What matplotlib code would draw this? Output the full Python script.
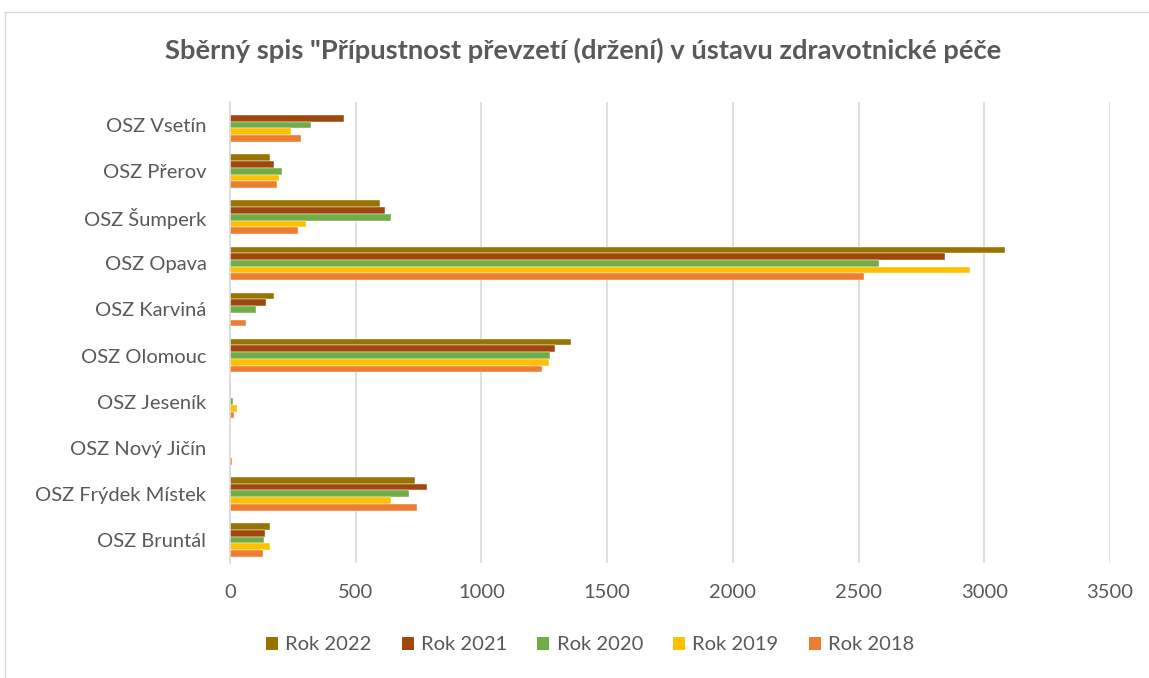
import matplotlib
matplotlib.use("Agg")
import matplotlib.pyplot as plt
import numpy as np
from matplotlib.lines import Line2D
from matplotlib.patches import Patch

plt.rcParams["font.family"] = ["Lato", "DejaVu Sans"]

# Categories from bottom to top (as drawn)
categories = ["OSZ Bruntál", "OSZ Frýdek Místek", "OSZ Nový Jičín", "OSZ Jeseník",
              "OSZ Olomouc", "OSZ Karviná", "OSZ Opava", "OSZ Šumperk",
              "OSZ Přerov", "OSZ Vsetín"]

rok_2022 = [159, 736, 1, 2, 1355, 175, 3081, 596, 158, 0]
rok_2021 = [138, 783, 0, 0, 1292, 144, 2843, 616, 174, 453]
rok_2020 = [135, 713, 0, 10, 1271, 102, 2580, 639, 208, 322]
rok_2019 = [159, 641, 0, 29, 1269, 3, 2942, 302, 196, 241]
rok_2018 = [131, 744, 8, 15, 1242, 64, 2521, 269, 188, 281]

series_labels = ["Rok 2022", "Rok 2021", "Rok 2020", "Rok 2019", "Rok 2018"]
series_values = [rok_2022, rok_2021, rok_2020, rok_2019, rok_2018]
colors = ["#997300", "#9e480e", "#70ad47", "#ffc000", "#ed7d31"]

x_ticks = [0, 500, 1000, 1500, 2000, 2500, 3000, 3500]

fig = plt.figure(figsize=(11.49, 6.78), dpi=100)
ax = fig.add_axes([230 / 1149, 1 - 563 / 678, 880 / 1149, 461 / 678])

pos = np.arange(len(categories))
h = 0.146
for i, (vals, col) in enumerate(zip(series_values, colors)):
    offset = (2 - i) * h
    ax.barh(pos + offset, vals, height=h, color=col, edgecolor="white", linewidth=0.3)

ax.set_xlim(0, 3500)
ax.set_ylim(-0.5, len(categories) - 0.5)
ax.set_xticks(x_ticks)
ax.set_xticklabels([str(t) for t in x_ticks], fontsize=14.5, color="#595959")
ax.set_yticks(pos)
ax.set_yticklabels(categories, fontsize=14.5, color="#595959")
ax.tick_params(axis="both", length=0)
ax.tick_params(axis="x", pad=15)
ax.tick_params(axis="y", pad=17)

ax.grid(axis="x", color="#d9d9d9", linewidth=1.2)
ax.set_axisbelow(True)
for side in ["top", "right", "bottom"]:
    ax.spines[side].set_visible(False)
ax.spines["left"].set_color("#d9d9d9")
ax.spines["left"].set_linewidth(1.2)

fig.text(583 / 1149, 1 - 50 / 678,
         'Sběrný spis "Přípustnost převzetí (držení) v ústavu zdravotnické péče',
         ha="center", va="center", fontsize=19.7, fontweight="bold", color="#595959")

handles = [Patch(facecolor=c, edgecolor="none") for c in colors]
fig.legend(handles, series_labels, loc="center", bbox_to_anchor=(590 / 1149, 1 - 645 / 678),
           ncol=5, frameon=False, fontsize=14.5, handlelength=0.6, handleheight=0.6,
           handletextpad=0.35, columnspacing=1.5, labelcolor="#595959")

# chart area border
fig.add_artist(Line2D([5 / 1149, 1], [1 - 12 / 678, 1 - 12 / 678], color="#d9d9d9", lw=1,
                      transform=fig.transFigure))
fig.add_artist(Line2D([5 / 1149, 5 / 1149], [0, 1 - 12 / 678], color="#d9d9d9", lw=1,
                      transform=fig.transFigure))

fig.savefig("out.png", dpi=100)
